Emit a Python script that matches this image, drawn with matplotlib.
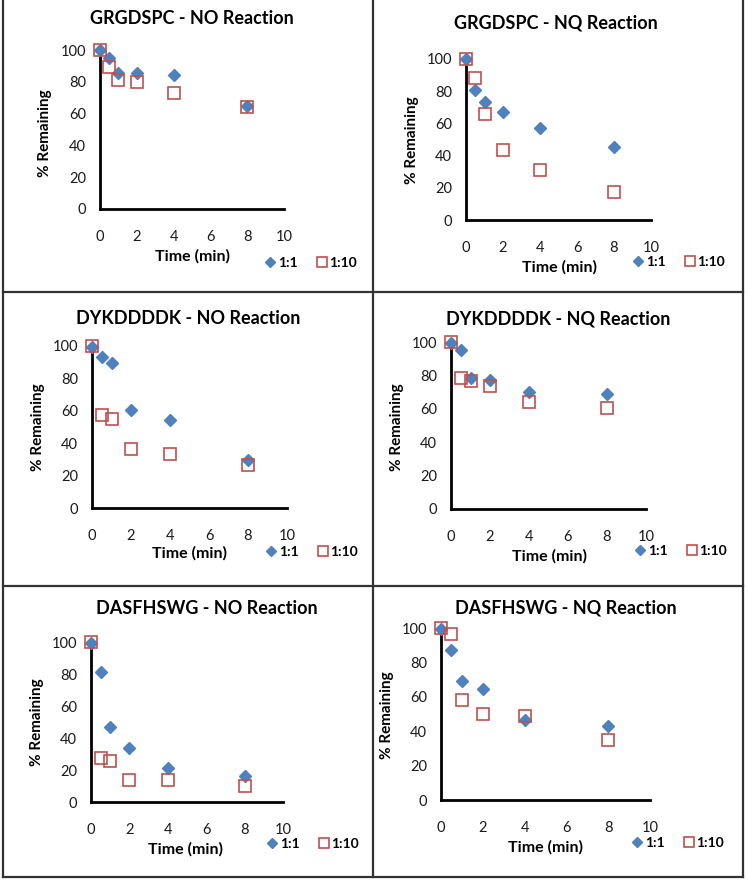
import matplotlib
matplotlib.use("Agg")
import matplotlib.pyplot as plt
from matplotlib.lines import Line2D

plt.rcParams['font.family'] = ['Lato', 'DejaVu Sans']

W, H = 748, 883

# sampling times (min)
times = [0, 0.5, 1, 2, 4, 8]

# panel titles
titles = [
    "GRGDSPC - NO Reaction", "GRGDSPC - NQ Reaction",
    "DYKDDDDK - NO Reaction", "DYKDDDDK - NQ Reaction",
    "DASFHSWG - NO Reaction", "DASFHSWG - NQ Reaction",
]

# % remaining, ratio 1:1
ratio_1_1 = [
    [100, 94.8, 85.7, 85.3, 84.0, 65.0],
    [100, 80.7, 73.3, 67.3, 56.9, 45.5],
    [99.6, 93.4, 89.7, 60.2, 54.6, 29.4],
    [99.6, 95.0, 78.3, 77.1, 70.3, 68.9],
    [99.6, 81.3, 47.1, 34.0, 21.2, 16.0],
    [99.6, 87.4, 68.9, 64.5, 46.6, 42.9],
]

# % remaining, ratio 1:10
ratio_1_10 = [
    [100, 89.5, 81.0, 80.0, 73.0, 64.0],
    [100, 88.4, 66.0, 43.7, 31.3, 17.2],
    [100, 57.5, 54.8, 36.5, 33.3, 26.7],
    [100, 78.5, 76.9, 73.7, 64.1, 60.2],
    [100, 27.8, 25.7, 13.9, 13.9, 9.8],
    [100, 96.5, 57.9, 50.1, 49.1, 35.1],
]

# pixel layout of each panel: x at 0, x at 10, y at 0, y at 100
axes_px = [
    (100, 284, 209, 50), (466, 651, 220, 59),
    (92, 287, 508, 346), (451, 646, 509, 342),
    (91, 283, 802, 642), (441, 650, 800, 628),
]
title_px = [(192, 18), (556, 23), (188, 318), (558, 319), (207, 608), (566, 608)]
ylabel_px = [(45, 133), (412, 140), (38, 427), (397, 427), (37, 722), (387, 715)]
xlabel_px = [(192, 256), (559, 267), (190, 553), (549, 556), (185, 849), (546, 847)]
legend_px = [(310, 263), (678, 262), (311, 552), (680, 551), (312, 844), (677, 843)]

blue = '#4F81BD'
red = '#C0504D'


def fx(x):
    return x / W


def fy(y):
    return 1 - y / H


fig = plt.figure(figsize=(W / 100, H / 100), dpi=100)

for i in range(6):
    x0, x10, y0, y100 = axes_px[i]
    ax = fig.add_axes([fx(x0), fy(y0), (x10 - x0) / W, (y0 - y100) / H])
    ax.plot(times, ratio_1_1[i], linestyle='none', marker='D', ms=6.3,
            color=blue, mec=blue, label='1:1', clip_on=False, zorder=3)
    ax.plot(times, ratio_1_10[i], linestyle='none', marker='s', ms=8.5,
            mfc='none', mec=red, mew=1.2, label='1:10', clip_on=False, zorder=4)
    ax.set_xlim(0, 10)
    ax.set_ylim(0, 100)
    ax.set_xticks(range(0, 11, 2))
    ax.set_yticks(range(0, 101, 20))
    for s in ['top', 'right']:
        ax.spines[s].set_visible(False)
    for s in ['left', 'bottom']:
        ax.spines[s].set_linewidth(2.0)
        ax.spines[s].set_color('black')
    ax.tick_params(length=0, labelsize=10.5, colors='#1a1a1a')
    ax.tick_params(axis='x', pad=15)
    ax.tick_params(axis='y', pad=10)

    tx, ty = title_px[i]
    fig.text(fx(tx), fy(ty), titles[i], ha='center', va='center',
             fontsize=13, fontweight='bold')
    lx, ly = ylabel_px[i]
    fig.text(fx(lx), fy(ly), '% Remaining', ha='center', va='center',
             rotation=90, fontsize=11, fontweight='bold')
    bx, by = xlabel_px[i]
    fig.text(fx(bx), fy(by), 'Time (min)', ha='center', va='center',
             fontsize=11.5, fontweight='bold')
    gx, gy = legend_px[i]
    leg = ax.legend(loc='center', bbox_to_anchor=(fx(gx), fy(gy)),
                    bbox_transform=fig.transFigure, ncol=2, frameon=False,
                    handletextpad=0.0, columnspacing=1.2, handlelength=1.1,
                    borderpad=0, prop={'size': 10, 'weight': 'bold'})
    for h in leg.legend_handles:
        h.set_markersize(h.get_markersize() * 0.85)

# panel borders
border = dict(color='#333333', lw=1.6)
fig.add_artist(Line2D([fx(3), fx(3)], [fy(0), fy(877)], **border))
fig.add_artist(Line2D([fx(743), fx(743)], [fy(0), fy(877)], **border))
fig.add_artist(Line2D([fx(3), fx(743)], [fy(877), fy(877)], **border))
fig.add_artist(Line2D([fx(373), fx(373)], [fy(0), fy(877)], **border))
fig.add_artist(Line2D([fx(3), fx(743)], [fy(292), fy(292)], **border))
fig.add_artist(Line2D([fx(3), fx(743)], [fy(586), fy(586)], **border))

fig.savefig('out.png', dpi=100)
